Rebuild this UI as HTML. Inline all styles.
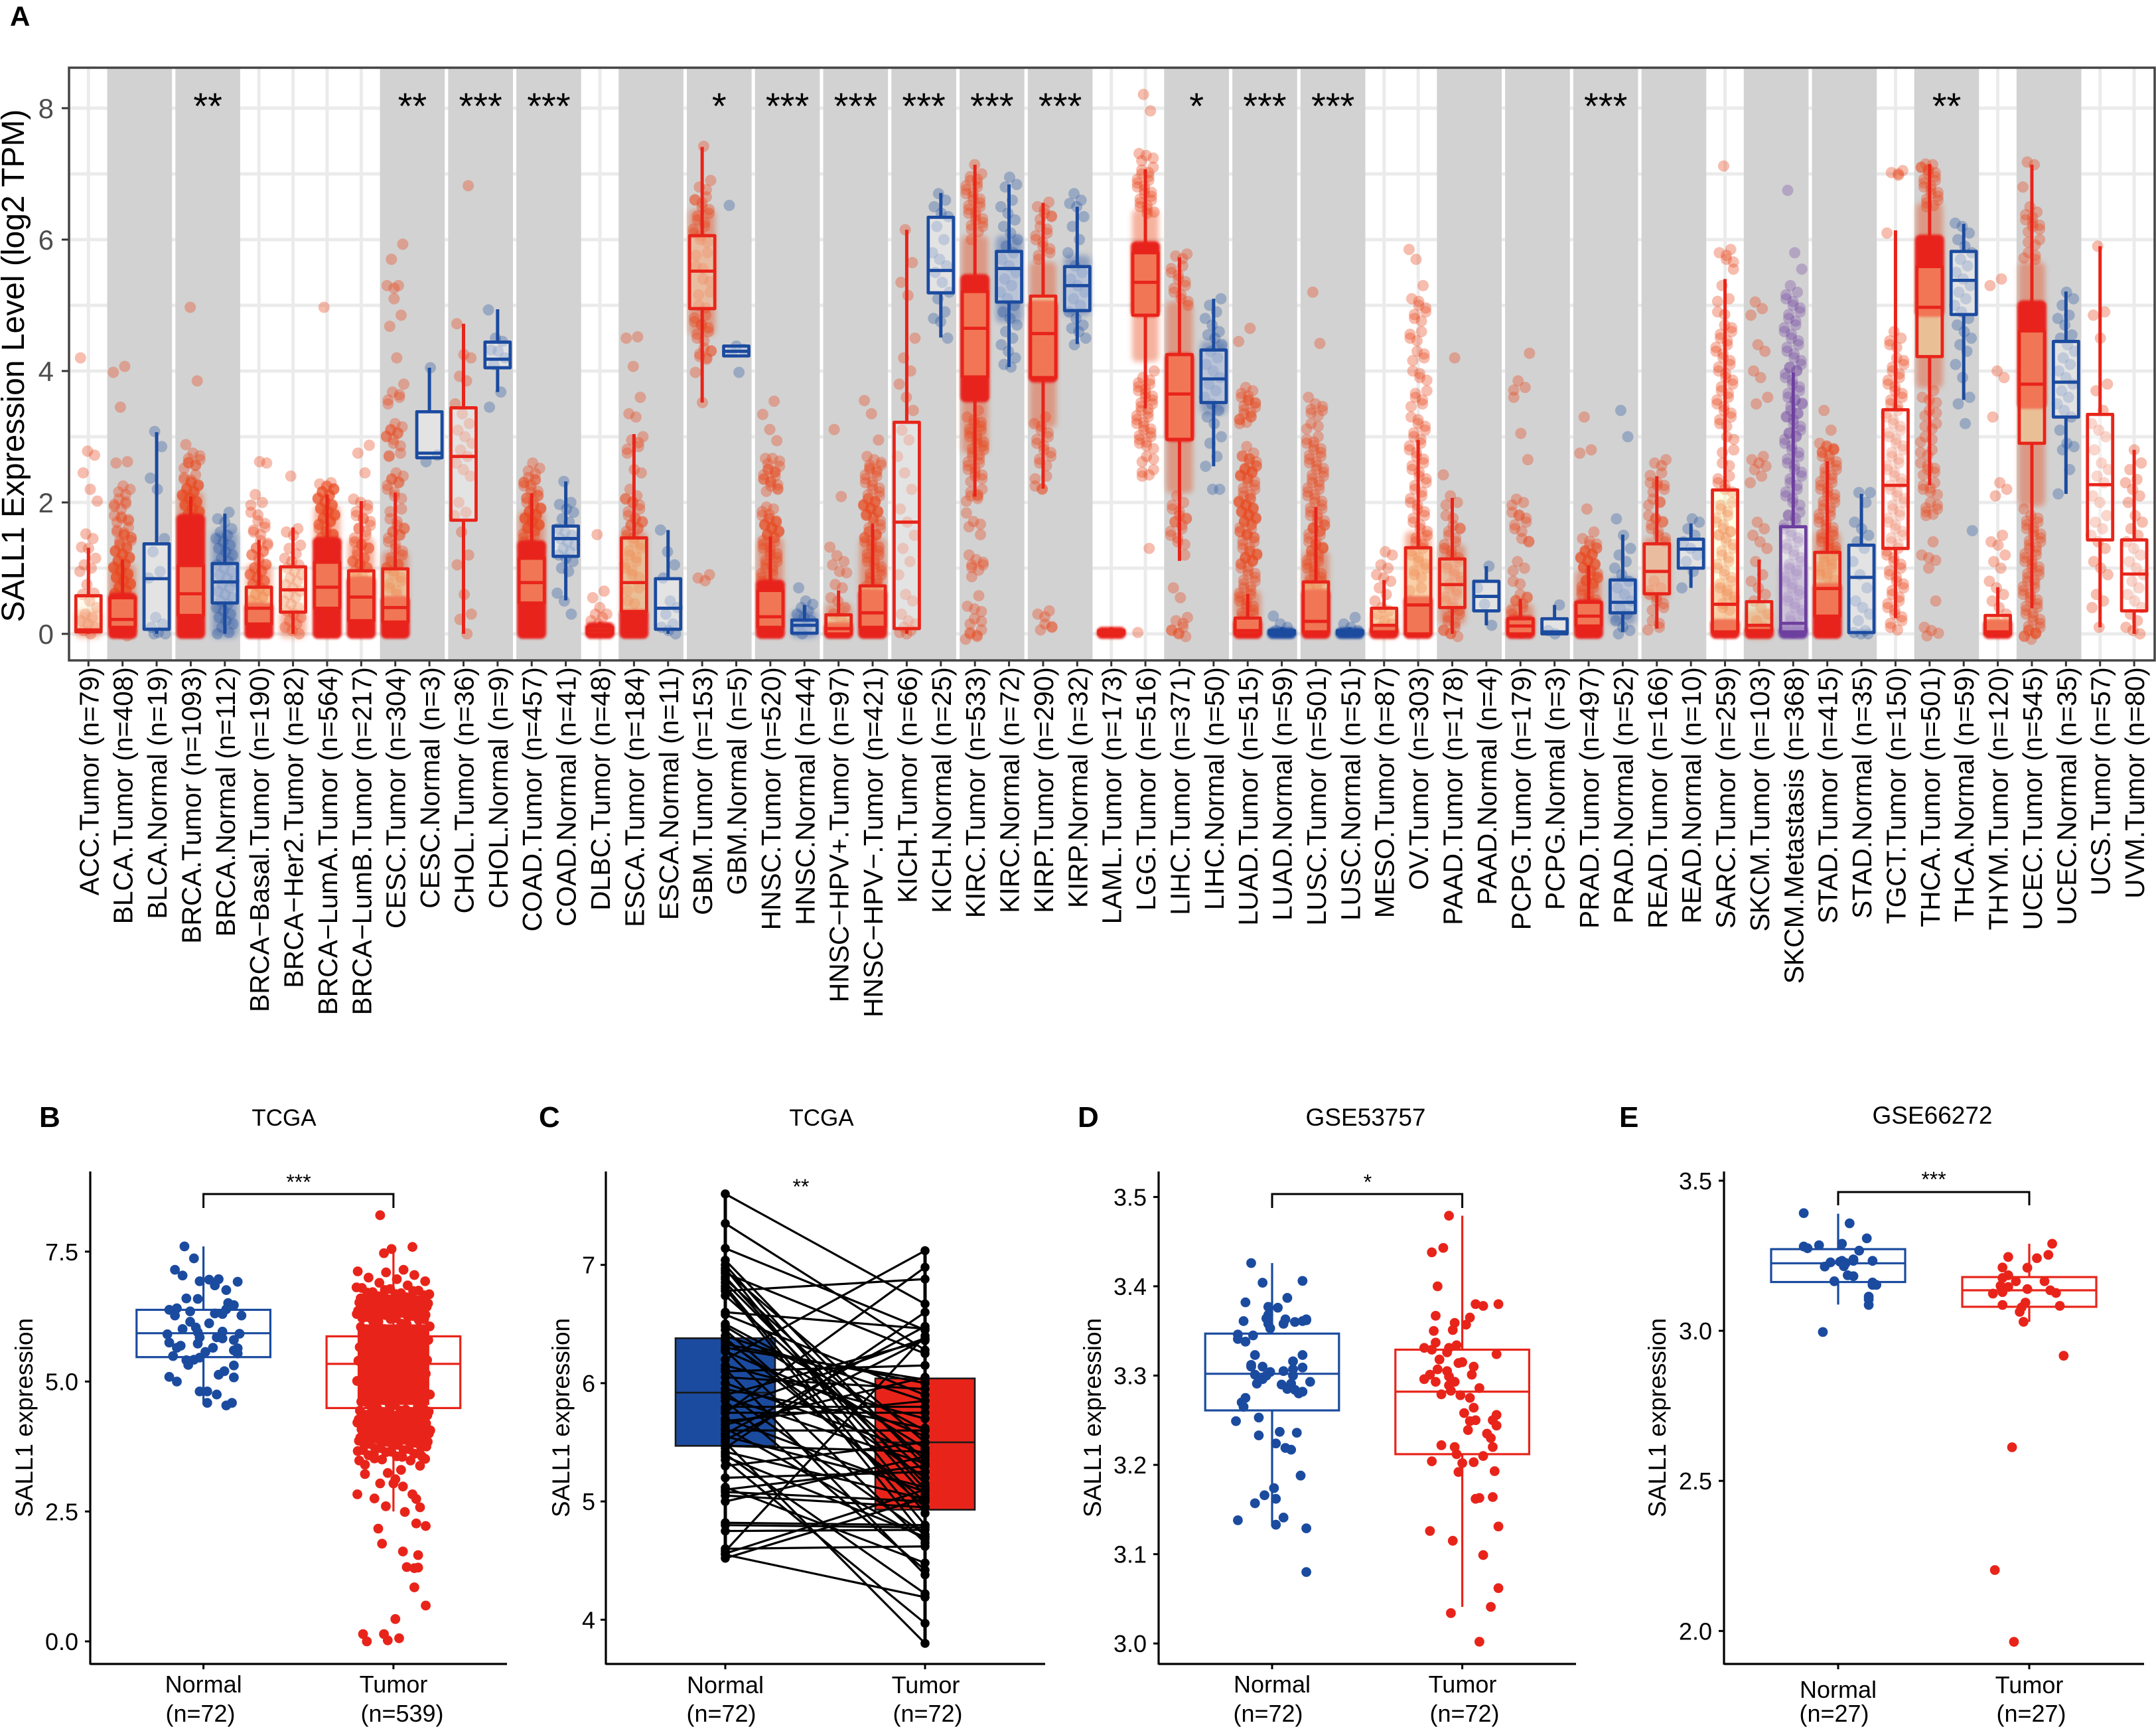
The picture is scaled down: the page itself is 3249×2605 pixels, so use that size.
<!DOCTYPE html>
<html lang="en">
<head>
<meta charset="utf-8">
<title>SALL1 expression across cancers</title>
<style>
html,body{margin:0;padding:0;background:#fff}
svg{display:block}
text{font-family:"Liberation Sans",sans-serif}
</style>
</head>
<body>
<svg id="fig" xmlns="http://www.w3.org/2000/svg" width="3249" height="2605" viewBox="0 0 3249 2605">
<defs>
<filter id="softHaze" x="-30%" y="-30%" width="160%" height="160%"><feGaussianBlur stdDeviation="4"/></filter>
<filter id="softCore" x="-20%" y="-20%" width="140%" height="140%"><feGaussianBlur stdDeviation="1.6"/></filter>
</defs>
<rect x="0" y="0" width="3249" height="2605" fill="#fff"/>
<g id="panelA"></g>
<g id="panelB"></g>
<g id="panelC"></g>
<g id="panelD"></g>
<g id="panelE"></g>
<text x="15" y="39" font-size="42" font-weight="bold">A</text>
<text x="59" y="1698" font-size="44" font-weight="bold">B</text>
<text x="812" y="1698" font-size="44" font-weight="bold">C</text>
<text x="1624" y="1698" font-size="44" font-weight="bold">D</text>
<text x="2440" y="1698" font-size="44" font-weight="bold">E</text>
<text transform="translate(36,551) rotate(-90)" text-anchor="middle" font-size="48">SALL1 Expression Level (log2 TPM)</text>
<text x="428" y="1696" text-anchor="middle" font-size="35">TCGA</text>
<text x="1238" y="1696" text-anchor="middle" font-size="35">TCGA</text>
<text x="2058" y="1696" text-anchor="middle" font-size="37">GSE53757</text>
<text x="2912" y="1693" text-anchor="middle" font-size="37">GSE66272</text>
<text transform="translate(49,2136) rotate(-90)" text-anchor="middle" font-size="37">SALL1 expression</text>
<text transform="translate(858,2136) rotate(-90)" text-anchor="middle" font-size="37">SALL1 expression</text>
<text transform="translate(1659,2136) rotate(-90)" text-anchor="middle" font-size="37">SALL1 expression</text>
<text transform="translate(2510,2136) rotate(-90)" text-anchor="middle" font-size="37">SALL1 expression</text>
</svg>
<script>
const categories=["ACC.Tumor (n=79)","BLCA.Tumor (n=408)","BLCA.Normal (n=19)","BRCA.Tumor (n=1093)","BRCA.Normal (n=112)","BRCA−Basal.Tumor (n=190)","BRCA−Her2.Tumor (n=82)","BRCA−LumA.Tumor (n=564)","BRCA−LumB.Tumor (n=217)","CESC.Tumor (n=304)","CESC.Normal (n=3)","CHOL.Tumor (n=36)","CHOL.Normal (n=9)","COAD.Tumor (n=457)","COAD.Normal (n=41)","DLBC.Tumor (n=48)","ESCA.Tumor (n=184)","ESCA.Normal (n=11)","GBM.Tumor (n=153)","GBM.Normal (n=5)","HNSC.Tumor (n=520)","HNSC.Normal (n=44)","HNSC−HPV+.Tumor (n=97)","HNSC−HPV−.Tumor (n=421)","KICH.Tumor (n=66)","KICH.Normal (n=25)","KIRC.Tumor (n=533)","KIRC.Normal (n=72)","KIRP.Tumor (n=290)","KIRP.Normal (n=32)","LAML.Tumor (n=173)","LGG.Tumor (n=516)","LIHC.Tumor (n=371)","LIHC.Normal (n=50)","LUAD.Tumor (n=515)","LUAD.Normal (n=59)","LUSC.Tumor (n=501)","LUSC.Normal (n=51)","MESO.Tumor (n=87)","OV.Tumor (n=303)","PAAD.Tumor (n=178)","PAAD.Normal (n=4)","PCPG.Tumor (n=179)","PCPG.Normal (n=3)","PRAD.Tumor (n=497)","PRAD.Normal (n=52)","READ.Tumor (n=166)","READ.Normal (n=10)","SARC.Tumor (n=259)","SKCM.Tumor (n=103)","SKCM.Metastasis (n=368)","STAD.Tumor (n=415)","STAD.Normal (n=35)","TGCT.Tumor (n=150)","THCA.Tumor (n=501)","THCA.Normal (n=59)","THYM.Tumor (n=120)","UCEC.Tumor (n=545)","UCEC.Normal (n=35)","UCS.Tumor (n=57)","UVM.Tumor (n=80)"];
const yTicksA=[0,2,4,6,8];
const yMinorA=[1,3,5,7];
const pairedBandStarts=[1,3,9,11,13,16,18,20,22,24,26,28,32,34,36,40,42,44,46,49,51,54,57];
const starGroups=[3,9,11,13,18,20,22,24,26,28,32,34,36,44,54];
const starLabels=["**","**","***","***","*","***","***","***","***","***","*","***","***","***","**"];
const boxQ1=[.03,.1,.07,.28,.47,.15,.33,.39,.2,.18,2.68,1.73,4.05,.47,1.18,0,.34,.07,4.95,4.23,.1,.01,0,.1,.08,5.19,3.91,5.05,3.9,4.92,0,4.85,2.96,3.52,0,0,.03,0,.03,0,.4,.35,0,0,.12,.32,.61,1,.03,.05,.03,.27,.02,1.3,4.22,4.86,0,2.9,3.3,1.43,.35];
const boxMedian=[.06,.22,.84,.61,.79,.39,.67,.71,.56,.4,2.75,2.7,4.18,.78,1.45,.05,.78,.39,5.52,4.3,.26,.13,.08,.32,1.7,5.53,4.65,5.56,4.57,5.3,.01,5.35,3.65,3.88,.05,.01,.19,.01,.13,.44,.75,.57,.12,.03,.27,.48,.95,1.29,.45,.13,.16,.69,.86,2.26,4.97,5.38,.03,3.8,3.83,2.27,.91];
const boxQ3=[.58,.55,1.37,1.04,1.07,.71,1.02,1.09,.96,.99,3.38,3.44,4.44,1.15,1.64,.1,1.46,.84,6.06,4.38,.66,.21,.29,.73,3.22,6.34,5.21,5.82,5.14,5.59,.05,5.8,4.25,4.32,.24,.05,.79,.05,.39,1.31,1.14,.8,.23,.23,.48,.82,1.37,1.44,2.19,.49,1.63,1.24,1.35,3.41,5.59,5.82,.28,4.61,4.45,3.34,1.43];
const whiskerLow=[0,0,0,0,0,0,0,0,0,0,2.68,0,3.68,0,.51,0,0,0,3.52,4.23,0,0,0,0,0,4.51,2.09,4.06,2.21,4.41,0,3.43,1.11,2.55,0,0,0,0,0,0,0,.13,0,0,0,.03,.08,.7,0,0,0,0,0,.24,2.26,3.56,0,.39,2.13,.1,0];
const whiskerHigh=[1.31,1.13,3.07,2.09,1.83,1.43,1.62,2.12,2.02,2.15,4.05,4.72,4.94,2.14,2.32,.18,3.04,1.58,7.41,4.38,1.48,.44,.66,1.68,6.15,6.71,7.14,6.84,6.56,6.5,.1,7.07,5.73,5.1,.61,.1,1.93,.1,.82,2.95,2.07,1.03,.53,.44,1.04,1.51,2.4,1.68,5.4,1.13,3.98,2.63,2.13,6.14,7.15,6.24,.71,7.14,5.21,5.9,2.8];
const coreLow=[null,0,null,0,null,0,null,0,0,0,null,null,null,0,null,0,0,null,null,null,0,null,0,0,null,null,3.6,null,3.9,null,0,4.9,3,null,0,0,0,0,0,0,null,null,0,null,0,null,null,null,0,0,0,0,null,null,4.9,null,0,3.5,null,null,null];
const coreHigh=[null,.55,null,1.75,null,.4,null,1.4,.8,.5,null,null,null,1.35,null,.1,.3,null,null,null,.75,null,.1,.6,null,null,5.4,null,5,null,.03,5.9,4.2,null,.15,.02,.6,.02,.05,.5,null,null,.2,null,.45,null,null,null,.15,.05,.05,.7,null,null,6,null,.15,5,null,null,null];
const hazeLow=[0,.55,null,1.75,0,.4,0,1.4,.8,.5,null,null,null,1.35,null,null,.3,null,4.6,null,.75,0,.1,.6,null,null,2.8,4.8,3.2,4.9,null,4.2,2.2,3.4,.15,null,.6,null,0,.5,.2,null,.2,null,.45,.2,.6,null,.15,0,.05,.7,null,null,3.8,null,null,2,null,null,null];
const hazeHigh=[.3,1,null,2.1,1.5,1,.3,1.9,1.4,1.2,null,null,null,1.8,null,null,1.5,null,6.4,null,1.4,.3,.4,1.4,null,null,6,6,5.6,5.7,null,6.4,5,4.4,.6,null,1.2,null,.3,1.5,1.3,null,.4,null,.9,.8,1.4,null,.7,.3,1,1.5,null,null,6.5,null,null,5.6,null,null,null];
const jitterValues=[
[0,.05,.1,.15,.2,.25,.3,.4,.5,.6,.62,.75,.95,1,1.05,1.15,1.3,1.32,1.45,1.52,2.02,2.2,2.45,2.72,2.78,4.2],
[.05,.2,.3,.4,.5,.6,.65,.7,.75,.8,.85,.9,.95,1,1.05,1.1,1.15,1.2,1.25,1.3,1.35,1.42,1.5,1.55,1.62,1.78,1.8,1.98,2.05,2.2,2.25,2.6,2.62,3.45,3.98,4.07],
[0,0,.02,.1,.15,.25,.85,.95,1.25,1.45,2.2,2.37,2.85,3.08],
[1.7,1.8,1.85,1.9,1.95,2,2.05,2.1,2.15,2.2,2.25,2.3,2.35,2.42,2.6,2.65,2.75,2.88,3.85,4.97],
[0,.02,.1,.15,.2,.25,.3,.35,.4,.45,.5,.55,.6,.65,.7,.75,.8,.85,.9,.95,1,1.05,1.1,1.15,1.2,1.25,1.3,1.35,1.4,1.45,1.5,1.55,1.6,1.7,1.75,1.85],
[.4,.5,.55,.6,.65,.7,.75,.8,.85,.9,.95,1,1.05,1.1,1.2,1.25,1.3,1.35,1.42,1.55,1.62,1.72,1.85,2,2.12,2.6,2.62],
[0,.05,.1,.15,.2,.25,.3,.35,.4,.45,.5,.55,.6,.65,.7,.75,.8,.85,.9,.95,1,1.05,1.1,1.15,1.22,1.3,1.35,1.5,1.55,1.6,2.4],
[1.4,1.5,1.55,1.6,1.7,1.75,1.8,1.85,1.9,1.95,2,2.05,2.1,2.15,2.2,2.25,2.28,2.3,4.97],
[.8,.9,1,1.05,1.1,1.15,1.2,1.3,1.35,1.4,1.5,1.6,1.65,1.75,1.8,1.9,2,2.05,2.45,2.75,2.87],
[.3,.6,.7,.8,.9,1,1.05,1.1,1.2,1.3,1.4,1.5,1.55,1.6,1.65,1.75,1.9,2.1,2.2,2.3,2.35,2.4,2.45,2.7,2.75,2.9,3,3.05,3.1,3.15,3.2,3.5,3.6,3.68,3.8,4.2,4.68,4.85,5.1,5.3,5.3,5.7,5.93],
[2.62,2.72,4.05],
[0,.22,.3,.6,1.05,1.2,1.55,1.8,1.85,2,2.4,2.5,2.6,2.7,2.8,2.9,3,3.1,3.2,3.35,3.5,3.85,3.92,4.2,4.25,4.72,6.82],
[3.45,3.68,4.1,4.2,4.3,4.32,4.45,4.5,4.93],
[1.3,1.4,1.5,1.6,1.65,1.7,1.75,1.8,1.85,1.9,1.95,2,2.1,2.15,2.25,2.35,2.38,2.52,2.6],
[.3,.5,.62,.95,1,1.1,1.15,1.2,1.25,1.3,1.35,1.4,1.45,1.5,1.55,1.6,1.7,1.75,1.85,1.9,1.97,2,2.32],
[.05,.1,.15,.2,.25,.3,.3,.4,.55,.65,1.51],
[.3,.5,.7,.9,1,1.1,1.2,1.3,1.4,1.5,1.6,1.65,1.7,1.75,1.8,1.9,2,2.05,2.1,2.2,2.45,2.5,2.75,2.85,2.95,3,3.3,3.35,3.6,4.07,4.5,4.52],
[0,.05,.1,.15,.3,.4,.5,.85,1.05,1.25,1.58],
[.85,.9,3.52,3.98,4.2,4.22,4.3,4.35,4.5,4.6,4.7,4.75,4.85,5,5.2,5.4,5.6,5.8,6,6.1,6.2,6.3,6.4,6.5,6.6,6.65,6.8,6.9,7.42],
[3.98,4.3,4.33,4.38,6.52],
[.8,.9,1,1.1,1.2,1.3,1.4,1.5,1.55,1.6,1.65,1.7,1.75,1.8,1.9,1.93,2.2,2.25,2.35,2.4,2.5,2.55,2.67,2.67,2.94,3.11,3.34,3.54],
[0,.05,.1,.15,.2,.25,.3,.35,.4,.45,.5,.7],
[.05,.1,.15,.25,.3,.4,.5,.55,.7,.75,.93,.95,1.05,1.1,1.19,1.32,2.09,3.11],
[.6,.7,.8,.9,1,1.1,1.2,1.3,1.4,1.5,1.55,1.6,1.7,1.8,1.85,1.9,1.95,2,2.05,2.1,2.2,2.3,2.4,2.5,2.57,2.65,2.7,2.95,3.35,3.55],
[0,.02,.05,.1,.15,.2,.3,.5,.6,.9,1.1,1.3,1.5,1.7,1.9,2.2,2.45,2.7,2.95,3.1,3.4,3.6,3.8,4,4.2,4.5,5.15,5.35,5.65,6.15],
[4.5,4.75,4.8,4.9,5.1,5.2,5.35,5.5,5.6,5.7,5.8,6,6.2,6.35,6.4,6.5,6.6,6.7],
[0,.06,.23,.42,.58,.87,1.05,1.13,1.2,1.51,1.71,1.84,2.1,2.1,2.2,2.4,2.5,2.6,2.7,2.8,2.9,3,3.1,3.2,3.3,3.4,6,6.2,6.3,6.4,6.5,6.6,6.7,6.8,6.9,7,7.14],
[4.06,4.1,4.2,4.3,4.4,4.5,4.6,4.7,4.8,4.9,5,5.1,5.2,5.3,5.4,5.5,5.6,5.7,5.8,5.9,6,6.1,6.2,6.3,6.4,6.5,6.6,6.8,6.84,6.95],
[.1,.15,.3,.35,2.2,2.25,2.4,2.6,2.7,2.8,2.9,3,3.1,3.2,3.3,5.7,5.8,5.9,6,6.1,6.2,6.35,6.4,6.5,6.57],
[4.4,4.5,4.6,4.65,4.7,4.8,4.9,5,5.1,5.2,5.3,5.4,5.5,5.6,5.8,6,6.2,6.35,6.5,6.55,6.6,6.7],
[],
[.02,1.3,2.4,2.5,2.7,2.9,3,3.1,3.2,3.3,3.4,3.5,3.6,3.7,3.8,3.9,4,6.4,6.5,6.6,6.7,6.8,6.9,7,7.1,7.28,7.31,7.96,8.21],
[0,.05,.1,.2,.25,.55,.7,1.2,1.4,1.5,1.6,1.7,1.75,1.8,1.9,2,2.1,5,5.1,5.2,5.3,5.4,5.5,5.6,5.75,5.78],
[2.2,2.2,2.55,2.7,2.9,3,3.2,3.3,3.4,3.5,3.6,3.7,3.8,3.9,4,4.1,4.2,4.3,4.4,4.5,4.55,4.6,4.7,4.8,4.9,5,5.1],
[.2,.3,.4,.5,.6,.7,.8,.9,1,1.1,1.15,1.2,1.25,1.3,1.4,1.5,1.55,1.6,1.7,1.75,1.8,1.85,1.9,1.95,2,2.05,2.1,2.2,2.3,2.4,2.45,2.5,2.55,2.6,2.7,2.75,2.85,3.2,3.3,3.35,3.45,3.55,3.6,3.7,3.75,4.45,4.65],
[.02,.05,.1,.15,.27],
[.5,.6,.7,.8,.9,1,1.1,1.2,1.3,1.35,1.4,1.5,1.6,1.65,1.7,1.8,1.9,2,2.1,2.2,2.3,2.4,2.5,2.6,2.7,2.8,2.9,3,3.2,3.4,3.5,3.6,4.42,5.2],
[.02,.05,.1,.15,.25],
[.05,.1,.15,.2,.3,.35,.4,.5,.6,.7,.8,.85,.9,1,1.05,1.2,1.25],
[.5,.7,.9,1,1.1,1.2,1.3,1.4,1.5,1.6,1.7,1.8,1.9,2,2.1,2.2,2.3,2.4,2.5,2.6,2.7,2.8,2.9,3,3.1,3.2,3.3,3.5,3.6,3.7,3.9,4,4.2,4.3,4.5,4.6,4.8,4.9,5,5.1,5.3,5.7,5.85],
[0,.05,.1,.2,.3,.4,.5,.6,.7,.8,.9,1,1.1,1.2,1.3,1.4,1.5,1.6,1.65,1.8,2,2.1,2.42,4.2],
[.13,.45,.7,1.03],
[.05,.1,.2,.3,.4,.5,.55,.6,.8,1,1.1,1.4,1.45,1.6,1.7,1.8,1.85,2,2.05,2.65,3.05,3.6,3.75,3.85,4.27],
[0,.05,.44],
[.4,.5,.6,.7,.8,.85,.9,1,1.05,1.1,1.15,1.2,1.25,1.3,1.35,1.45,1.55,1.9,2.75,2.8,3.3],
[0,.05,.1,.2,.3,.4,.5,.6,.7,.8,.9,1,1.1,1.2,1.3,1.5,1.75,3,3.4],
[.1,.2,.4,.5,.6,.7,.8,1.4,1.5,1.6,1.7,1.75,1.8,2,2.05,2.2,2.3,2.3,2.45,2.6,2.65],
[.7,.95,1.1,1.2,1.3,1.4,1.5,1.6,1.7,1.75],
[.4,.5,.6,.7,.8,.9,1,1.1,1.2,1.3,1.4,1.5,1.55,1.6,1.7,1.8,1.9,2,2.2,2.3,2.4,2.6,2.8,3,3.2,3.3,3.4,3.5,3.6,3.7,3.8,3.9,4,4.1,4.2,4.3,4.4,4.5,4.6,4.7,4.9,5.1,5.3,5.55,5.7,5.8,5.85,7.12],
[.1,.2,.3,.4,.5,.6,.7,.8,.9,1.1,1.3,1.4,1.5,1.6,1.7,2.3,2.4,2.5,2.55,2.6,2.65,2.7,3.5,3.6,3.9,4,4.3,4.4,4.85,4.95,5.05],
[.05,.1,.2,.3,.4,.5,.6,.7,.8,.9,1,1.1,1.2,1.3,1.4,1.5,1.6,1.7,1.8,1.85,2,2.1,2.2,2.3,2.4,2.5,2.6,2.7,2.8,2.9,3,3.05,3.1,3.2,3.3,3.35,3.4,3.5,3.55,3.6,3.7,3.8,3.9,4,4.05,4.1,4.2,4.3,4.4,4.5,4.6,4.7,4.8,4.9,5,5.1,5.2,5.3,5.55,5.8,6.75],
[.7,.9,1,1.1,1.2,1.3,1.4,1.5,1.6,1.7,1.8,1.9,2,2.1,2.2,2.3,2.4,2.5,2.6,2.7,2.8,2.85,2.9,3.1,3.4],
[0,0,.02,.05,.2,.3,.4,.5,.7,.9,1.1,1.3,1.4,1.5,1.6,1.7,2,2.15,2.15],
[.1,.2,.3,.4,.5,.6,.7,.8,.9,1,1.1,1.2,1.3,1.4,1.5,1.6,1.7,1.8,1.9,2,2.1,2.2,2.3,2.4,2.5,2.6,2.7,2.8,2.9,3,3.1,3.2,3.3,3.4,3.5,3.6,3.7,3.8,3.9,4,4.1,4.2,4.4,4.5,4.6,6.1,7,7.02,7.05],
[.05,.1,.5,1,1.2,1.4,1.8,1.9,2,2.2,2.3,2.5,2.6,2.8,3,3.2,3.4,3.6,3.7,6.5,6.6,6.7,6.8,6.9,7,7.1,7.14,7.15],
[1.57,3.2,3.5,3.6,3.9,4.1,4.3,4.4,4.5,4.6,4.7,4.8,4.9,5,5.1,5.2,5.3,5.4,5.5,5.6,5.7,5.8,5.9,6,6.1,6.2,6.25],
[.2,.3,.4,.5,.6,.7,.8,1,1.1,1.2,1.35,1.4,1.5,2.1,2.2,2.3,3.3,3.9,4,5.3,5.4],
[0,.05,.1,.2,.3,.4,.5,.6,.7,.8,.9,1,1.1,1.2,1.3,1.4,1.5,1.6,1.7,1.8,1.9,5.7,5.8,6,6.2,6.3,6.42,6.5,6.8,7.14,7.18],
[2.13,2.5,2.8,2.85,2.9,3.1,3.3,3.4,3.5,3.6,3.7,3.8,3.9,4,4.1,4.2,4.3,4.4,4.5,4.55,4.7,4.8,4.85,5,5.1,5.2],
[.1,.4,.5,.6,.9,1,1.1,1.3,1.4,1.5,1.6,1.7,1.8,2,2.1,2.3,2.4,2.5,2.6,2.8,3,3.1,3.2,3.4,3.7,3.8,4.5,4.85,4.9,5.9],
[0,.05,.1,.2,.3,.4,.5,.6,.7,.8,.9,1,1.1,1.2,1.3,1.4,1.5,1.6,1.7,1.8,2,2.1,2.2,2.3,2.35,2.5,2.6,2.8]
];

const xLabels=["Normal","Tumor"];
const bBoxNormal=[4.56,5.47,5.93,6.38,7.6];
const bBoxTumor=[2.5,4.49,5.34,5.87,7.6];
const bCoreTumor=[4.55,6.1];
const bTicks=[0,2.5,5,7.5];
const bTickLabels=["0.0","2.5","5.0","7.5"];
const bJitterNormal=[-.1,-.05,-.15,-.11,-.02,.03,.08,.06,.18,.12,-.09,-.03,.13,.16,-.18,-.14,-.15,-.07,.06,.1,.12,.2,-.07,.03,-.11,-.04,-.03,.1,-.19,.07,.19,.1,-.02,.16,-.18,-.12,-.03,-.14,.05,.18,.16,.18,.01,-.16,-.02,-.05,-.09,-.08,.16,.11,.08,-.18,.16,-.14,-.02,.02,.07,.02,.15,.12];
const bValuesNormal=[7.6,7.37,7.15,7.04,6.93,6.96,6.97,6.85,6.92,6.76,6.6,6.59,6.51,6.47,6.38,6.41,6.27,6.35,6.31,6.3,6.39,6.27,6.15,6.12,6.01,6.04,5.95,5.96,5.91,5.85,5.92,5.83,5.85,5.8,5.75,5.69,5.73,5.65,5.65,5.64,5.6,5.54,5.57,5.49,5.46,5.42,5.41,5.32,5.31,5.2,5.13,5.09,5.08,5,4.81,4.81,4.75,4.59,4.59,4.54];
const bJitterTumorLow=[-.19,-.1,-.04,.06,.14,.1,.12,.12,.17,-.08,-.06,.05,.13,.07,.11,.13,.11,.17,.01,-.16,-.05,-.14,-.03,.03,-.07,0,.05,.01,-.15,-.03,.04,-.18,.14,-.15,-.1,-.06,.09,.15,-.07,-.01,.1,-.05];
const bValuesTumorLow=[2.83,2.75,2.6,2.49,2.58,2.83,2.74,2.27,2.22,2.17,1.88,1.73,1.66,1.43,1.41,1.42,1.04,.69,.43,.14,.14,0,.02,.06,3.04,3.04,2.98,3.12,3.22,3.24,3.3,3.48,3.38,3.4,3.52,3.5,3.48,3.56,8.2,7.55,7.59,7.47];
const bValuesTumorDense=[3.55,3.6,3.62,3.65,3.68,3.7,3.72,3.75,3.78,3.8,3.82,3.84,3.86,3.88,3.9,3.92,3.93,3.95,3.96,3.98,4,4.02,4.03,4.05,4.06,4.08,4.1,4.11,4.13,4.14,4.16,4.18,4.2,4.21,4.23,4.25,4.26,4.28,4.3,4.31,4.33,4.35,4.36,4.38,4.4,4.42,4.44,4.46,4.48,4.5,4.55,4.6,4.65,4.7,4.75,4.8,4.85,4.9,4.95,5,5.05,5.1,5.15,5.2,5.25,5.3,5.35,5.4,5.45,5.5,5.55,5.6,5.65,5.7,5.75,5.8,5.85,5.9,5.95,6,6.05,6.1,6.15,6.2,6.22,6.24,6.26,6.28,6.3,6.32,6.33,6.35,6.36,6.38,6.4,6.42,6.44,6.45,6.47,6.49,6.5,6.52,6.54,6.56,6.58,6.6,6.62,6.64,6.66,6.68,6.7,6.72,6.75,6.78,6.8,6.85,6.9,6.93,6.97,7,7.05,7.1,7.12,7.15];

const cBoxNormal=[5.47,5.92,6.38];
const cBoxTumor=[4.93,5.5,6.04];
const cTicks=[4,5,6,7];
const cValuesNormal=[7.6,7.35,7.14,7.04,7,6.97,6.95,6.93,6.9,6.88,6.85,6.82,6.8,6.78,6.74,6.6,6.58,6.5,6.48,6.45,6.4,6.38,6.36,6.33,6.3,6.28,6.27,6.15,6.1,6.05,6,5.95,5.92,5.9,5.88,5.85,5.8,5.78,5.75,5.7,5.65,5.62,5.6,5.57,5.55,5.52,5.5,5.47,5.45,5.42,5.4,5.38,5.35,5.3,5.2,5.12,5.1,5.08,5.05,5,4.82,4.8,4.75,4.6,4.58,4.56,4.55,4.52,5.75,6.2,5.68,6.12];
const cValuesTumor=[6.67,6.28,6.45,5.3,5.1,4.9,5.5,6.25,5.05,5.35,5.15,4.8,4.7,6.88,5.25,6.46,5.9,5.6,5.45,4.95,5.85,5,5.2,6,6.03,4.65,5.55,5.7,6.15,5.95,5.4,5.62,4.72,6.36,5.32,4.42,5.8,6.38,5.75,5.08,6.05,4.68,5.6,6.48,5.12,6.37,3.8,5.42,6.6,5.02,4.22,4.7,3.97,5.5,5.25,4.48,5.3,5,4.95,5.38,4.8,4.78,4.76,4.62,6.4,5.1,4.19,5.03,6.98,7.12,5.85,4.38];

const dBoxNormal=[3.134,3.261,3.302,3.347,3.426];
const dBoxTumor=[3.041,3.212,3.282,3.329,3.479];
const dTicks=[3,3.1,3.2,3.3,3.4,3.5];
const dTickLabels=["3.0","3.1","3.2","3.3","3.4","3.5"];
const dJitterNormal=[-.11,-.05,.16,.08,-.14,-.02,.03,-.15,-.03,-.02,.07,.06,.12,.18,.18,.16,-.02,-.01,-.18,-.18,-.1,-.14,-.09,.16,.11,-.11,-.11,-.05,.16,.11,-.09,-.01,.06,-.03,-.05,.11,-.08,.05,.2,.1,.08,.12,.16,.14,-.14,-.16,-.15,-.19,-.07,-.07,.04,.13,.02,.07,.1,.15,.01,-.04,.02,-.09,-.18,.06,.02,.18,.18];
const dValuesNormal=[3.426,3.404,3.406,3.387,3.382,3.377,3.376,3.361,3.364,3.368,3.363,3.358,3.36,3.363,3.362,3.361,3.358,3.353,3.346,3.341,3.345,3.338,3.323,3.323,3.316,3.31,3.312,3.31,3.309,3.307,3.301,3.304,3.305,3.3,3.296,3.3,3.291,3.29,3.293,3.291,3.285,3.284,3.282,3.28,3.275,3.27,3.265,3.249,3.253,3.233,3.237,3.236,3.224,3.219,3.217,3.188,3.174,3.166,3.162,3.157,3.138,3.141,3.133,3.129,3.08];
const dJitterTumor=[-.07,-.1,-.16,-.13,.07,.11,.19,-.14,.04,-.04,.02,-.15,-.05,-.14,-.2,-.16,-.03,-.07,-.08,.18,-.12,-.02,0,.06,-.13,-.17,-.08,-.2,.05,-.07,-.14,-.04,-.07,.09,-.06,-.11,-.01,.04,.06,.01,.18,.07,.16,.04,.18,.03,.13,.15,-.11,-.04,.16,-.03,.11,-.16,0,.06,-.02,.17,.07,.09,.16,-.17,.19,-.05,.11,.19,.15,-.06,.09];
const dValuesTumor=[3.479,3.443,3.438,3.4,3.38,3.378,3.38,3.367,3.365,3.359,3.357,3.35,3.351,3.337,3.331,3.329,3.334,3.331,3.326,3.324,3.318,3.314,3.315,3.31,3.307,3.301,3.305,3.296,3.301,3.299,3.293,3.293,3.289,3.286,3.283,3.279,3.278,3.275,3.264,3.258,3.256,3.25,3.25,3.249,3.244,3.239,3.235,3.23,3.222,3.22,3.22,3.212,3.21,3.204,3.202,3.203,3.192,3.193,3.162,3.163,3.164,3.126,3.131,3.115,3.099,3.062,3.041,3.034,3.002];

const eBoxNormal=[3.0875,3.1625,3.225,3.272,3.39];
const eBoxTumor=[3.03,3.08,3.135,3.179,3.29];
const eTicks=[2,2.5,3,3.5];
const eTickLabels=["2.0","2.5","3.0","3.5"];
const eJitterNormal=[-.18,.06,.15,.02,-.18,-.16,-.1,.11,-.04,.02,.08,.08,.18,-.07,.03,.05,.08,-.02,.18,.18,.2,.16,.16,-.08,.01,.04,.16];
const eValuesNormal=[3.392,3.358,3.308,3.29,3.281,3.275,3.285,3.267,3.228,3.233,3.238,3.233,3.233,3.214,3.215,3.185,3.182,3.165,3.161,3.153,3.153,3.114,3.086,2.996,3.23,3.226,3.105];
const eJitterTumor=[.12,.1,-.11,.04,-.14,-.01,-.11,-.14,-.07,.08,-.15,-.11,-.14,-.19,-.01,.11,.14,-.14,-.02,.16,-.04,-.05,-.03,.18,-.09,-.18,-.08];
const eValuesTumor=[3.29,3.253,3.246,3.242,3.211,3.21,3.185,3.176,3.165,3.165,3.15,3.146,3.129,3.124,3.139,3.135,3.126,3.086,3.094,3.083,3.078,3.063,3.03,2.917,2.612,2.203,1.964];

const NS='http://www.w3.org/2000/svg';
const RED='#e8241a',BLUE='#1b4b9f',PURPLE='#6d3f9e',ORANGE='#e8491f';
function mk(tag,attrs,parent,txt){
  const n=document.createElementNS(NS,tag);
  for(const k in attrs)n.setAttribute(k,attrs[k]);
  if(txt!==undefined)n.textContent=txt;
  parent.appendChild(n);
  return n;
}
function slug(s){return s.toLowerCase().replace(/[^a-z0-9]+/g,'-').replace(/^-|-$/g,'');}

/* ---------- Panel A ---------- */
(function(){
  const g=document.getElementById('panelA');
  const xA=i=>133.3+51.38*i;
  const yA=v=>955-99*v;
  const L=104,R=3247,T=102,B=995;
  const ends=[...new Array(categories.length).keys()];
  yMinorA.concat(yTicksA).forEach(v=>{
    const e=mk('line',{x1:L,x2:R,y1:yA(v),y2:yA(v),stroke:'#ebebeb','stroke-width':5},g);
    
    
  });
  ends.forEach(i=>{
    const e=mk('line',{x1:xA(i),x2:xA(i),y1:T,y2:B,stroke:'#ebebeb','stroke-width':5},g);
    
    
  });
  pairedBandStarts.forEach(i=>{
    const e=mk('rect',{x:xA(i-.45),y:T,width:xA(i+1.45)-xA(i-.45),height:B-T,fill:'#d2d2d2'},g);
    
    
  });
  ends.forEach(i=>{
    const name=categories[i];
    const col=name.includes('Metastasis')?PURPLE:name.includes('Normal')?BLUE:RED;
    const ptCol=col===RED?ORANGE:col;
    const sampleN=parseInt(name.match(/n=(\d+)/)[1],10);
    const copies=sampleN>=400?3:sampleN>=150?2:1;
    const cg=mk('g',{},g);
    
    
    if(hazeLow[i]!==null){
      const h=mk('rect',{x:xA(i)-20,y:yA(hazeHigh[i])-6,width:40,height:yA(hazeLow[i])-yA(hazeHigh[i])+12,rx:8,fill:ptCol,'fill-opacity':col===RED?.42:.36,filter:'url(#softHaze)'},cg);
      
      
    }
    const vals=jitterValues[i];
    for(let c=0;c<copies;c++){
      vals.forEach((v,k)=>{
        const prevGap=k>0?v-vals[k-1]:0;
        const nextGap=k<vals.length-1?vals[k+1]-v:9;
        if(c>0&&(prevGap>.22||nextGap>.22))return;
        const frac=((k+1)*0.618034+i*0.37+c*0.381)%1;
        const p=mk('circle',{cx:xA(i)+(frac-.5)*2*.27*51.38,cy:yA(v)+c*4,r:8.5,fill:ptCol,'fill-opacity':col===RED?.36:.3},cg);
        
        
      });
    }
    if(coreLow[i]!==null){
      const c=mk('rect',{x:xA(i)-22,y:yA(coreHigh[i])-7.5,width:44,height:yA(coreLow[i])-yA(coreHigh[i])+15,rx:8,fill:col,filter:'url(#softCore)'},cg);
      
      
    }
    const w1=mk('line',{x1:xA(i),x2:xA(i),y1:yA(whiskerHigh[i]),y2:yA(boxQ3[i]),stroke:col,'stroke-width':5},cg);
    
    
    const w2=mk('line',{x1:xA(i),x2:xA(i),y1:yA(boxQ1[i]),y2:yA(whiskerLow[i]),stroke:col,'stroke-width':5},cg);
    
    
    const boxTint=(col===RED&&coreLow[i]!==null)?'#ffffb5':(col===RED&&hazeLow[i]!==null)?'#fff6d0':'#fff';
    const b=mk('rect',{x:xA(i)-19,y:yA(boxQ3[i]),width:38,height:yA(boxQ1[i])-yA(boxQ3[i]),fill:boxTint,'fill-opacity':.38,stroke:col,'stroke-width':4.8,'stroke-linejoin':'round'},cg);
    
    
    const m=mk('line',{x1:xA(i)-19,x2:xA(i)+19,y1:yA(boxMedian[i]),y2:yA(boxMedian[i]),stroke:col,'stroke-width':4.8},cg);
    
    
    const t=mk('line',{x1:xA(i),x2:xA(i),y1:B,y2:B+9,stroke:'#333','stroke-width':3},g);
    
    
    const l=mk('text',{transform:'translate('+(xA(i)+15)+',1005) rotate(-90)','text-anchor':'end','font-size':40.8,fill:'#000'},g,name);
    
    
  });
  starGroups.forEach((i,k)=>{
    const s=mk('text',{x:xA(i+.5),y:179,'text-anchor':'middle','font-size':56,fill:'#000'},g,starLabels[k]);
    
    
  });
  yTicksA.forEach(v=>{
    const t=mk('line',{x1:L-11,x2:L,y1:yA(v),y2:yA(v),stroke:'#333','stroke-width':3},g);
    
    
    const l=mk('text',{x:81,y:yA(v)+15,'text-anchor':'end','font-size':42,fill:'#4d4d4d'},g,String(v));
    
    
  });
  const f=mk('rect',{x:L,y:T,width:R-L,height:B-T,fill:'none',stroke:'#444','stroke-width':3.5},g);
  
  
})();

/* ---------- shared axes for lower panels ---------- */
function lowerAxes(g,left,right,ticks,labels,yFn,labelRight,xPos,xLabelCfg){
  const ya=mk('line',{x1:left,x2:left,y1:1765,y2:2508,stroke:'#000','stroke-width':3.2},g);
  
  
  const xa=mk('line',{x1:left,x2:right,y1:2507,y2:2507,stroke:'#000','stroke-width':3.2},g);
  
  
  ticks.forEach((v,i)=>{
    const t=mk('line',{x1:left-8,x2:left,y1:yFn(v),y2:yFn(v),stroke:'#000','stroke-width':3},g);
    
    
    const l=mk('text',{x:labelRight,y:yFn(v)+13,'text-anchor':'end','font-size':36,fill:'#000'},g,labels[i]);
    
    
  });
  xPos.forEach((x,i)=>{
    const t=mk('line',{x1:x,x2:x,y1:2507,y2:2515,stroke:'#000','stroke-width':3},g);
    
    
    const c=xLabelCfg[i];
    const a=mk('text',{x:c[0],y:c[1],'text-anchor':'middle','font-size':36,fill:'#000'},g,xLabels[i]);
    
    
    const b=mk('text',{x:c[2],y:2594,'text-anchor':'middle','font-size':36,fill:'#000'},g,c[3]);
    
    
  });
}
function bracket(g,x1,x2,yTop,yLeg,starX,starY,stars){
  const p=mk('path',{d:'M'+x1+' '+yLeg+'V'+yTop+'H'+x2+'V'+yLeg,fill:'none',stroke:'#000','stroke-width':3},g);
  
  
  const s=mk('text',{x:starX,y:starY,'text-anchor':'middle','font-size':32,fill:'#000'},g,stars);
  
  
}
function boxplot(g,x,box,yFn,col,half,prefix){
  const w=mk('line',{x1:x,x2:x,y1:yFn(box[4]),y2:yFn(box[0]),stroke:col,'stroke-width':3.2},g);
  
  
  const r=mk('rect',{x:x-half,y:yFn(box[3]),width:half*2,height:yFn(box[1])-yFn(box[3]),fill:'#fff',stroke:col,'stroke-width':3.2},g);
  
  
  const m=mk('line',{x1:x-half,x2:x+half,y1:yFn(box[2]),y2:yFn(box[2]),stroke:col,'stroke-width':3.2},g);
  
  
}
function dots(g,x,unit,jit,vals,yFn,col,prefix){
  vals.forEach((v,i)=>{
    const c=mk('circle',{cx:x+jit[i]*unit,cy:yFn(v),r:7.4,fill:col},g);
    
    
  });
}

/* ---------- Panel B ---------- */
(function(){
  const g=document.getElementById('panelB');
  const yB=v=>2473-78.3*v;
  const xN=306.6,xT=592.9,unit=286.3;
  lowerAxes(g,136,764,bTicks,bTickLabels,yB,118,[xN,xT],[[306.6,2550,302,'(n=72)'],[593,2550,606,'(n=539)']]);
  bracket(g,xN,xT,1799,1820,450,1792,'***');
  boxplot(g,xN,bBoxNormal,yB,BLUE,100.8,'normal');
  boxplot(g,xT,bBoxTumor,yB,RED,100.8,'tumor');
  dots(g,xN,unit,bJitterNormal,bValuesNormal,yB,BLUE,'normal');
  const core=mk('rect',{x:xT-54,y:yB(bCoreTumor[1]),width:108,height:yB(bCoreTumor[0])-yB(bCoreTumor[1]),fill:RED},g);
  
  
  dots(g,xT,unit,bJitterTumorLow,bValuesTumorLow,yB,RED,'tumor');
  for(let copy=0;copy<2;copy++){
    bValuesTumorDense.forEach((v,k)=>{
      if(copy===1&&v>6.85)return;
      const frac=((k+1)*0.618034+copy*0.31)%1;
      const c=mk('circle',{cx:xT+(frac-.5)*2*.195*unit,cy:yB(v)+copy*3,r:7.4,fill:RED},g);
      
      
    });
  }
})();

/* ---------- Panel C ---------- */
(function(){
  const g=document.getElementById('panelC');
  const y=v=>1620+(1306-283.7*(v-4))/1.592;
  const xN=1093,xT=1394;
  lowerAxes(g,913,1575,cTicks,cTicks.map(String),y,897,[xN,xT],[[1093,2551,1087,'(n=72)'],[1395,2551,1398,'(n=72)']]);
  [[xN,cBoxNormal,BLUE,'normal'],[xT,cBoxTumor,RED,'tumor']].forEach(d=>{
    const r=mk('rect',{x:d[0]-75,y:y(d[1][2]),width:150,height:y(d[1][0])-y(d[1][2]),fill:d[2],stroke:'#1a1a1a','stroke-width':2.6},g);
    
    
    const m=mk('line',{x1:d[0]-75,x2:d[0]+75,y1:y(d[1][1]),y2:y(d[1][1]),stroke:'#1a1a1a','stroke-width':2.6},g);
    
    
  });
  cValuesNormal.forEach((v,i)=>{
    const l=mk('line',{x1:xN,x2:xT,y1:y(v),y2:y(cValuesTumor[i]),stroke:'#000','stroke-width':3.2},g);
    
    
  });
  [[xN,cValuesNormal,'normal'],[xT,cValuesTumor,'tumor']].forEach(d=>{
    const stem=mk('line',{x1:d[0],x2:d[0],y1:y(Math.max(...d[1])),y2:y(Math.min(...d[1])),stroke:'#000','stroke-width':5},g);
    
    
    d[1].forEach(v=>{
      const c=mk('circle',{cx:d[0],cy:y(v),r:6.8,fill:'#000'},g);
      
      
    });
  });
  const s=mk('text',{x:1207,y:1799,'text-anchor':'middle','font-size':32,fill:'#000'},g,'**');
  
  
})();

/* ---------- Panel D ---------- */
(function(){
  const g=document.getElementById('panelD');
  const y=v=>1620+(1363-2142*(v-3))/1.592;
  const xN=1917,xT=2203.6,unit=286.6;
  lowerAxes(g,1746,2375,dTicks,dTickLabels,y,1728,[xN,xT],[[1917,2550,1911,'(n=72)'],[2204,2550,2207,'(n=72)']]);
  bracket(g,xN,xT,1799,1820,2061,1792,'*');
  boxplot(g,xN,dBoxNormal,y,BLUE,100.8,'normal');
  boxplot(g,xT,dBoxTumor,y,RED,100.8,'tumor');
  dots(g,xN,unit,dJitterNormal,dValuesNormal,y,BLUE,'normal');
  dots(g,xT,unit,dJitterTumor,dValuesTumor,y,RED,'tumor');
})();

/* ---------- Panel E ---------- */
(function(){
  const g=document.getElementById('panelE');
  const y=v=>1620+(613-720*(v-3))/1.592;
  const xN=2770,xT=3058,unit=288;
  lowerAxes(g,2598,3231,eTicks,eTickLabels,y,2580,[xN,xT],[[2770,2558,2764,'(n=27)'],[3058,2551,3061,'(n=27)']]);
  bracket(g,xN,xT,1796,1816,2914,1788,'***');
  boxplot(g,xN,eBoxNormal,y,BLUE,101,'normal');
  boxplot(g,xT,eBoxTumor,y,RED,101,'tumor');
  dots(g,xN,unit,eJitterNormal,eValuesNormal,y,BLUE,'normal');
  dots(g,xT,unit,eJitterTumor,eValuesTumor,y,RED,'tumor');
})();
</script>
</body>
</html>
